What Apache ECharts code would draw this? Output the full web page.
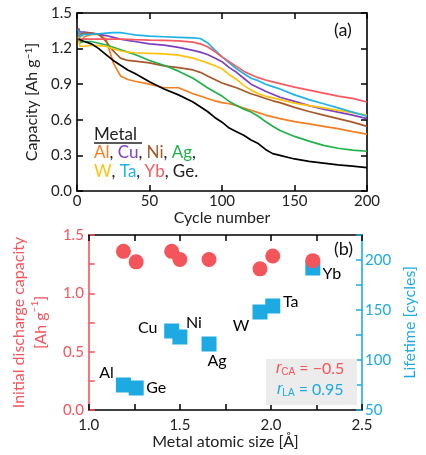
<!DOCTYPE html>
<html><head><meta charset="utf-8">
<script src="https://cdn.jsdelivr.net/npm/echarts@6/dist/echarts.min.js"></script>
<style>html,body{margin:0;padding:0;background:#fff}#c{width:426px;height:455px}</style>
</head><body><div id="c"></div>
<script>
// ---------- DATA ----------
const cycles = [1,2,5,10,15,20,25,30,35,40,50,60,70,80,85,90,95,100,105,110,115,120,125,130,135,140,150,160,170,180,190,200];
const capAl = [1.37,1.25,1.30,1.32,1.32,1.28,1.08,0.97,0.94,0.925,0.90,0.87,0.87,0.82,0.80,0.78,0.76,0.745,0.735,0.72,0.70,0.68,0.66,0.64,0.625,0.61,0.585,0.565,0.545,0.525,0.50,0.48];
const capCu = [1.37,1.34,1.34,1.33,1.32,1.31,1.295,1.28,1.27,1.26,1.24,1.23,1.21,1.185,1.17,1.15,1.12,1.09,1.04,1.00,0.95,0.90,0.87,0.84,0.815,0.79,0.755,0.72,0.69,0.665,0.64,0.61];
const capNi = [1.30,1.32,1.33,1.33,1.32,1.26,1.18,1.12,1.10,1.095,1.08,1.055,1.04,1.02,1.00,0.97,0.94,0.91,0.89,0.87,0.845,0.82,0.80,0.78,0.76,0.745,0.705,0.67,0.64,0.61,0.58,0.545];
const capAg = [1.27,1.25,1.26,1.26,1.245,1.23,1.21,1.19,1.17,1.15,1.10,1.06,1.01,0.95,0.91,0.87,0.835,0.80,0.755,0.72,0.69,0.665,0.63,0.585,0.545,0.51,0.46,0.42,0.385,0.36,0.345,0.335];
const capW  = [1.30,1.22,1.22,1.23,1.225,1.22,1.20,1.18,1.17,1.165,1.16,1.155,1.145,1.12,1.10,1.08,1.055,1.03,0.98,0.94,0.89,0.85,0.82,0.80,0.785,0.77,0.74,0.72,0.70,0.68,0.66,0.64];
const capTa = [1.36,1.30,1.32,1.32,1.325,1.33,1.335,1.335,1.325,1.315,1.305,1.30,1.295,1.29,1.285,1.25,1.19,1.13,1.08,1.03,0.99,0.95,0.93,0.90,0.88,0.86,0.81,0.77,0.735,0.70,0.665,0.63];
const capYb = [1.28,1.28,1.28,1.28,1.28,1.28,1.28,1.28,1.278,1.275,1.272,1.27,1.265,1.255,1.24,1.215,1.175,1.13,1.09,1.05,1.01,0.98,0.955,0.935,0.92,0.905,0.875,0.85,0.825,0.80,0.78,0.75];
const capGe = [1.28,1.27,1.26,1.24,1.20,1.15,1.10,1.06,1.02,0.99,0.92,0.86,0.81,0.75,0.71,0.67,0.62,0.58,0.53,0.50,0.47,0.43,0.40,0.35,0.315,0.30,0.27,0.25,0.235,0.22,0.21,0.197];

const metals = ['Al','Ge','Cu','Ni','Ag','W','Ta','Yb'];
const atomicSize = [1.19,1.26,1.455,1.50,1.66,1.94,2.01,2.23];
const initialCapacity = [1.36,1.27,1.36,1.29,1.29,1.21,1.32,1.28];
const lifetime = [75,72,129,123,116,148,154,192];

const cycleTicks = [0,50,100,150,200];
const rCA = '\u22120.5';
const rLA = '0.95';

// ---------- STYLE ----------
const FONT = 'Lato, "Open Sans", sans-serif';
const RED = '#f4555b';
const BLUE = '#1daae2';
const lineColors = {Al:'#f57e20', Cu:'#7d3fc0', Ni:'#a8582a', Ag:'#20b24b', W:'#ffc20e', Ta:'#1eb3ea', Yb:'#f65a60', Ge:'#000000'};
const labelOffset = {Al:[-17,-12], Ge:[20,0], Cu:[-24,-3], Ni:[14,-14], Ag:[8,17], W:[-19,14], Ta:[18,-4], Yb:[19,6]};

const lineSeriesData = [['Al',capAl],['Cu',capCu],['Ni',capNi],['Ag',capAg],['W',capW],['Ta',capTa],['Yb',capYb],['Ge',capGe]];

const chart = echarts.init(document.getElementById('c'), null, {renderer:'canvas'});

const tickIn = (color) => ({show:true, inside:true, length:6, lineStyle:{color:color, width:1.5}});
const axLine = (color) => ({show:true, onZero:false, lineStyle:{color:color, width:1.6}});
const lbl = (color, extra) => Object.assign({color:color, fontSize:15, fontFamily:FONT}, extra||{});
const rc = (c) => ({fill:c, fontSize:17, fontFamily:FONT});

const option = {
  animation:false,
  backgroundColor:'#fff',
  textStyle:{fontFamily:FONT},
  grid:[
    {left:77, top:13, width:290, height:178},
    {left:77, top:235, width:290, height:175}
  ],
  xAxis:[
    {type:'value', gridIndex:0, min:0, max:200, interval:50, position:'bottom',
     axisLine:axLine('#000'), axisTick:tickIn('#000'), splitLine:{show:false},
     axisLabel:lbl('#222',{margin:3, formatter:(v)=>cycleTicks.includes(v)?String(v):''}),
     name:'Cycle number', nameLocation:'middle', nameGap:16,
     nameTextStyle:{fontSize:16, color:'#222', fontFamily:FONT}},
    {type:'value', gridIndex:0, min:0, max:200, interval:50, position:'top',
     axisLine:axLine('#000'), axisTick:tickIn('#000'), axisLabel:{show:false}, splitLine:{show:false}},
    {type:'value', gridIndex:1, min:1.0, max:2.5, interval:0.25, position:'bottom',
     axisLine:axLine('#000'), axisTick:tickIn('#000'), splitLine:{show:false},
     axisLabel:lbl('#222',{margin:8, formatter:(v)=>(Math.abs(v*2-Math.round(v*2))<1e-6)?v.toFixed(1):''}),
     name:'Metal atomic size [\u00c5]', nameLocation:'middle', nameGap:24,
     nameTextStyle:{fontSize:16, color:'#222', fontFamily:FONT}},
    {type:'value', gridIndex:1, min:1.0, max:2.5, interval:0.25, position:'top',
     axisLine:axLine('#000'), axisTick:tickIn('#000'), axisLabel:{show:false}, splitLine:{show:false}}
  ],
  yAxis:[
    {type:'value', gridIndex:0, min:0, max:1.5, interval:0.3, position:'left',
     axisLine:axLine('#000'), axisTick:tickIn('#000'), splitLine:{show:false},
     axisLabel:lbl('#222',{margin:5, formatter:(v)=>v.toFixed(1)}),
     name:'Capacity [Ah g{sup|\u22121}]', nameLocation:'middle', nameGap:32, nameRotate:90,
     nameTextStyle:{fontSize:16, color:'#222', fontFamily:FONT,
       rich:{sup:{fontSize:10, verticalAlign:'top', color:'#222', fontFamily:FONT}}}},
    {type:'value', gridIndex:0, min:0, max:1.5, interval:0.3, position:'right',
     axisLine:axLine('#000'), axisTick:tickIn('#000'), axisLabel:{show:false}, splitLine:{show:false}},
    {type:'value', gridIndex:1, min:0, max:1.5, interval:0.25, position:'left',
     axisLine:axLine(RED), axisTick:tickIn(RED), splitLine:{show:false},
     axisLabel:lbl(RED,{margin:5, formatter:(v)=>(Math.abs(v*2-Math.round(v*2))<1e-6)?v.toFixed(1):''}),
     name:'Initial discharge capacity\n[Ah g{sup|\u22121}]', nameLocation:'middle', nameGap:29, nameRotate:90,
     nameTextStyle:{fontSize:16, color:RED, fontFamily:FONT, lineHeight:22,
       rich:{sup:{fontSize:10, verticalAlign:'top', color:RED, fontFamily:FONT}}}},
    {type:'value', gridIndex:1, min:50, max:225, interval:25, position:'right',
     axisLine:axLine(BLUE), axisTick:tickIn(BLUE), splitLine:{show:false},
     axisLabel:lbl(BLUE,{margin:3, formatter:(v)=>(v%50===0 && v<=200)?String(v):''}),
     name:'Lifetime [cycles]', nameLocation:'middle', nameGap:36, nameRotate:90,
     nameTextStyle:{fontSize:16, color:BLUE, fontFamily:FONT}}
  ],
  series:[]
};

lineSeriesData.forEach(([m, arr]) => {
  option.series.push({
    type:'line', name:m, xAxisIndex:0, yAxisIndex:0, showSymbol:false, symbol:'none',
    data:cycles.map((c,i)=>[c, arr[i]]),
    lineStyle:{color:lineColors[m], width:1.7}, itemStyle:{color:lineColors[m]}, z:3
  });
});

option.series.push({
  type:'scatter', name:'Lifetime', xAxisIndex:2, yAxisIndex:3, symbol:'rect', symbolSize:15,
  itemStyle:{color:BLUE, opacity:1},
  data:metals.map((m,i)=>({value:[atomicSize[i], lifetime[i]], name:m,
    label:{show:true, position:'inside', offset:labelOffset[m], formatter:m, color:'#000', opacity:1, fontSize:16, fontFamily:FONT}})),
  z:3
});
option.series.push({
  type:'scatter', name:'Capacity', xAxisIndex:2, yAxisIndex:2, symbol:'circle', symbolSize:15,
  itemStyle:{color:RED, opacity:1},
  data:metals.map((m,i)=>[atomicSize[i], initialCapacity[i]]),
  z:4
});

option.graphic = [
  {type:'text', left:334, top:21, style:{text:'(a)', fontSize:18, fontFamily:FONT, fill:'#111'}},
  {type:'text', left:334, top:240, style:{text:'(b)', fontSize:18, fontFamily:FONT, fill:'#111'}},
  {type:'text', left:94, top:126, style:{text:'Metal', fontSize:17, fontFamily:FONT, fill:'#222'}},
  {type:'line', shape:{x1:94, y1:143, x2:142, y2:143}, style:{stroke:'#222', lineWidth:1.3}},
  {type:'text', left:94, top:144, style:{
    text:'{al|Al}, {cu|Cu}, {ni|Ni}, {ag|Ag},', fontSize:17, fontFamily:FONT, fill:'#222',
    rich:{al:rc(lineColors.Al), cu:rc(lineColors.Cu), ni:rc(lineColors.Ni), ag:rc(lineColors.Ag)}}},
  {type:'text', left:94, top:163, style:{
    text:'{w|W}, {ta|Ta}, {yb|Yb}, Ge.', fontSize:17, fontFamily:FONT, fill:'#222',
    rich:{w:rc(lineColors.W), ta:rc(lineColors.Ta), yb:rc(lineColors.Yb)}}},
  {type:'rect', shape:{x:266, y:359, width:91, height:46}, style:{fill:'#ececec'}, z:1},
  {type:'text', left:276, top:361, z:5, style:{
    text:'{i|r}{s|CA} = ' + rCA, fontSize:16, fontFamily:FONT, fill:RED,
    rich:{i:{fontStyle:'italic', fontSize:16, fill:RED}, s:{fontSize:10, verticalAlign:'bottom', fill:RED}}}},
  {type:'text', left:277, top:382, z:5, style:{
    text:'{i|r}{s|LA} = ' + rLA, fontSize:16, fontFamily:FONT, fill:BLUE,
    rich:{i:{fontStyle:'italic', fontSize:16, fill:BLUE}, s:{fontSize:10, verticalAlign:'bottom', fill:BLUE}}}}
];

chart.setOption(option);
</script></body></html>
